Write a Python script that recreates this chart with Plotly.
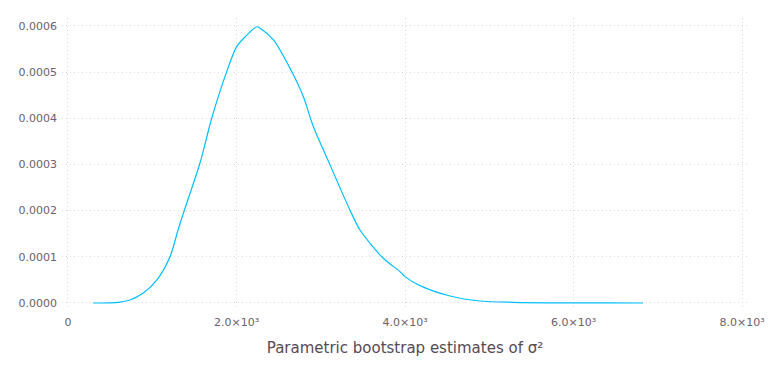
import plotly.graph_objects as go

# Density estimate of parametric bootstrap sigma^2 values
sigma2 = [297, 499, 617, 736, 890, 1056, 1211, 1306, 1369, 1567, 1706, 1884, 2002,
          2101, 2240, 2279, 2437, 2655, 2793, 2912, 3110, 3347, 3466, 3742, 3941,
          4000, 4178, 4534, 4890, 5282, 5994, 6400, 6825]
density = [0.0, 0.0000003, 0.000002, 0.0000065, 0.000021, 0.000050, 0.000100, 0.000158,
           0.000194, 0.000303, 0.000400, 0.000501, 0.000555, 0.000576, 0.000598,
           0.000595, 0.000570, 0.000501, 0.000447, 0.000382, 0.000299, 0.000201,
           0.000158, 0.0000968, 0.0000678, 0.000057, 0.0000375, 0.0000152,
           0.0000043, 0.0000015, 0.0000003, 0.0000001, 0.0]

x_tickvals = [0, 2000, 4000, 6000, 8000]
x_ticktext = ["0", "2.0×10³", "4.0×10³", "6.0×10³", "8.0×10³"]
y_tickvals = [0.0, 0.0001, 0.0002, 0.0003, 0.0004, 0.0005, 0.0006]
y_ticktext = ["0.0000", "0.0001", "0.0002", "0.0003", "0.0004", "0.0005", "0.0006"]

fig = go.Figure()
fig.add_trace(go.Scatter(
    x=sigma2, y=density, mode="lines",
    line=dict(color="#00BFFF", width=1.2, shape="spline", smoothing=0.8),
    showlegend=False, hoverinfo="skip",
))

grid = "#DCDCE8"
tickfont = dict(family="DejaVu Sans", size=11, color="#6C606B")
fig.update_layout(
    width=768, height=384,
    margin=dict(l=62, r=20, t=18, b=74),
    paper_bgcolor="white", plot_bgcolor="white",
    xaxis=dict(
        range=[-71, 8071], tickvals=x_tickvals, ticktext=x_ticktext,
        showgrid=True, gridcolor=grid, griddash="1px,3px", gridwidth=1,
        zeroline=False, showline=False, ticks="", tickfont=tickfont,
        automargin=False, ticklabelstandoff=4, ticklabeloverflow="allow",
        title=dict(text="Parametric bootstrap estimates of σ²",
                   font=dict(family="DejaVu Sans", size=15, color="#564A55"),
                   standoff=14),
    ),
    yaxis=dict(
        range=[-0.0000152, 0.000617], tickvals=y_tickvals, ticktext=y_ticktext,
        showgrid=True, gridcolor=grid, griddash="1px,3px", gridwidth=1,
        zeroline=False, showline=False, ticks="", tickfont=tickfont,
        automargin=False, ticklabelstandoff=4,
    ),
)

fig.write_html(
    "out.html",
    config={"displayModeBar": False},
    post_script="document.body.style.margin='0';document.body.style.overflow='hidden';",
)
